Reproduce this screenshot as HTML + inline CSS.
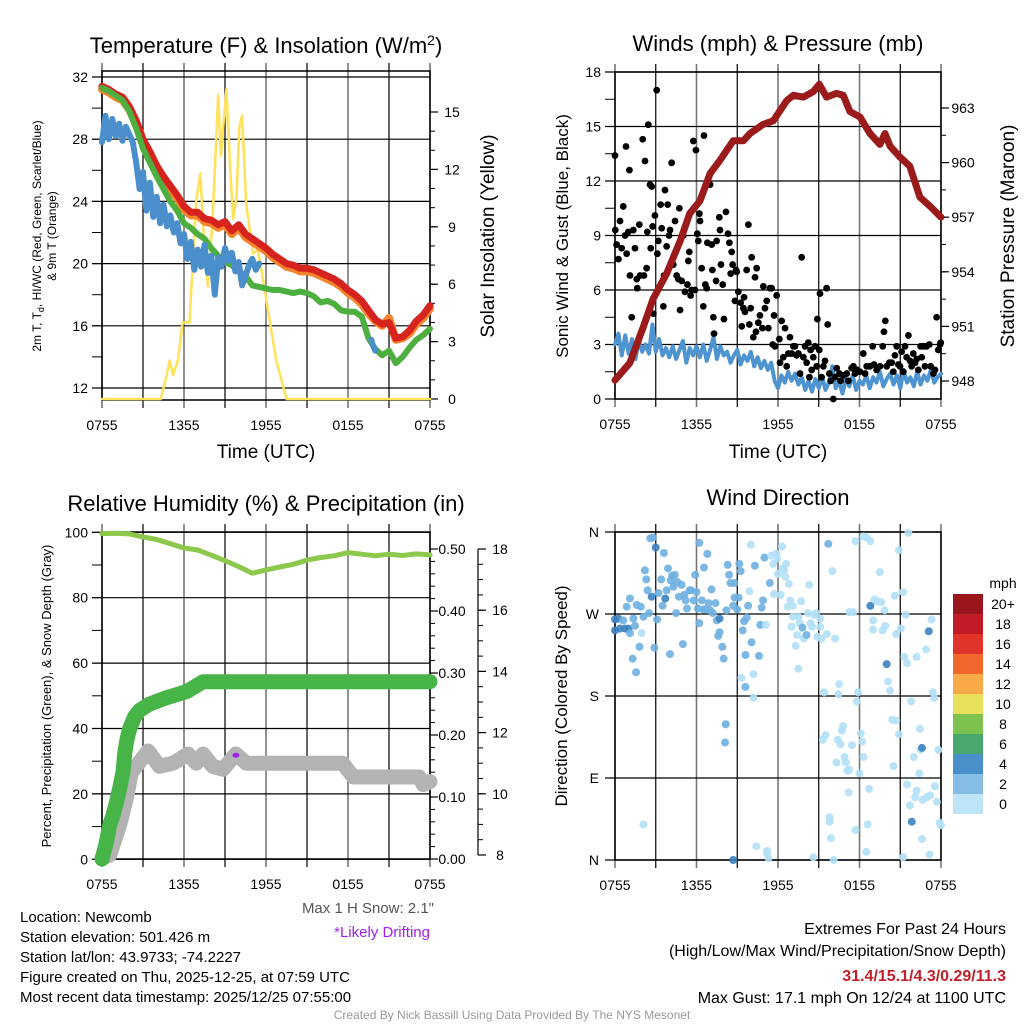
<!DOCTYPE html>
<html><head><meta charset="utf-8"><style>
html,body{margin:0;padding:0;background:#fff}
svg{display:block;font-family:"Liberation Sans",Arial,sans-serif}
</style></head><body>
<svg id="s" width="1024" height="1024" viewBox="0 0 1024 1024" xmlns="http://www.w3.org/2000/svg">
<g id="g1"></g>
<g id="g2"></g>
<g id="g3"></g>
<g id="g4"></g>
<text x="266" y="53" font-size="22" text-anchor="middle">Temperature (F) &amp; Insolation (W/m<tspan dy="-8" font-size="14">2</tspan><tspan dy="8">)</tspan></text>
<text x="778" y="51" font-size="22" text-anchor="middle">Winds (mph) &amp; Pressure (mb)</text>
<text x="266" y="511" font-size="22" text-anchor="middle">Relative Humidity (%) &amp; Precipitation (in)</text>
<text x="778" y="505" font-size="22" text-anchor="middle">Wind Direction</text>
<text x="266" y="458" font-size="19" text-anchor="middle">Time (UTC)</text>
<text x="778" y="458" font-size="19" text-anchor="middle">Time (UTC)</text>
<text transform="translate(41,236) rotate(-90)" font-size="12" text-anchor="middle">2m T, T<tspan font-size="9" dy="3">d</tspan><tspan dy="-3">, HI/WC (Red, Green, Scarlet/Blue)</tspan></text>
<text transform="translate(56,236) rotate(-90)" font-size="12" text-anchor="middle">&amp; 9m T (Orange)</text>
<text transform="translate(494,236) rotate(-90)" font-size="19" text-anchor="middle">Solar Insolation (Yellow)</text>
<text transform="translate(568,236) rotate(-90)" font-size="17" text-anchor="middle">Sonic Wind &amp; Gust (Blue, Black)</text>
<text transform="translate(1014,236) rotate(-90)" font-size="19" text-anchor="middle">Station Pressure (Maroon)</text>
<text transform="translate(51,696) rotate(-90)" font-size="13" text-anchor="middle">Percent, Precipitation (Green), &amp; Snow Depth (Gray)</text>
<text transform="translate(567,696) rotate(-90)" font-size="17" text-anchor="middle">Direction (Colored By Speed)</text>
<text x="434" y="913" font-size="15" fill="#555" text-anchor="end">Max 1 H Snow: 2.1"</text>
<text x="430" y="937" font-size="15" fill="#a020f0" text-anchor="end">*Likely Drifting</text>
<g font-size="15">
<text x="20" y="922">Location: Newcomb</text>
<text x="20" y="942">Station elevation: 501.426 m</text>
<text x="20" y="962">Station lat/lon: 43.9733; -74.2227</text>
<text x="20" y="982">Figure created on Thu, 2025-12-25, at 07:59 UTC</text>
<text x="20" y="1002">Most recent data timestamp: 2025/12/25 07:55:00</text>
</g>
<g font-size="16" text-anchor="end">
<text x="1006" y="934">Extremes For Past 24 Hours</text>
<text x="1006" y="956">(High/Low/Max Wind/Precipitation/Snow Depth)</text>
<text x="1006" y="981" font-weight="bold" fill="#c0202a">31.4/15.1/4.3/0.29/11.3</text>
<text x="1006" y="1003">Max Gust: 17.1 mph On 12/24 at 1100 UTC</text>
</g>
<text x="512" y="1019" font-size="12" fill="#999" text-anchor="middle">Created By Nick Bassill Using Data Provided By The NYS Mesonet</text>
</svg>
<script>
// ---- shared ----
const timeLabels=["0755","1355","1955","0155","0755"];
// ---- panel 1 data ----
const tempTicks=[12,16,20,24,28,32];
const solarTicks=[0,3,6,9,12,15];
const redT=[31.4,31.2,30.9,30.7,30.1,29.2,28.0,27.2,26.3,25.6,25.0,24.4,23.7,23.3,23.3,22.9,22.8,22.5,22.7,22.1,22.5,21.9,21.6,21.3,21.0,20.6,20.3,20.0,19.9,19.7,19.7,19.6,19.4,19.2,19.0,18.7,18.3,18.0,17.6,17.0,16.4,16.1,16.2,15.2,15.3,15.7,16.3,16.7,17.3];
const orangeT=[31.2,31.0,30.7,30.5,29.9,29.0,27.8,27.0,26.1,25.4,24.8,24.2,23.5,23.1,23.1,22.7,22.6,22.3,22.5,21.9,22.3,21.7,21.4,21.1,20.8,20.4,20.1,19.8,19.7,19.5,19.5,19.4,19.2,19.0,18.8,18.5,18.1,17.8,17.4,16.8,16.3,16.0,16.5,15.1,15.2,15.5,16.1,16.5,17.1];
const greenT=[31.3,31.1,30.8,30.5,29.8,28.7,27.4,26.5,25.6,24.8,24.0,23.4,22.6,22.3,21.9,21.6,21.0,20.5,20.1,19.9,19.5,19.2,18.6,18.5,18.4,18.3,18.3,18.2,18.1,18.2,18.1,17.9,17.5,17.6,17.4,17.0,16.9,16.9,16.6,15.2,14.5,14.1,14.4,13.6,14.0,14.6,15.1,15.4,15.8];
const blueT=[27.8,29.5,28.0,29.3,28.2,29.0,27.9,28.8,28.3,27.8,26.5,24.8,25.9,23.4,25.2,23.0,24.3,22.6,23.8,22.4,23.1,22.0,22.6,21.3,21.9,20.3,21.4,19.6,20.9,19.8,21.2,19.4,20.5,18.0,20.4,19.8,21.0,20.2,20.7,19.5,20.1,18.6,19.2,19.9,20.3,19.6,20.0];
const blue2Time=[19.7,19.8,19.9,20.0];
const blue2T=[15.1,14.8,14.6,14.4];
const solarTime=[0,4.3,4.65,4.95,5.2,5.55,5.9,6.4,6.9,7.2,7.4,7.75,8.1,8.5,8.7,9.1,9.35,9.6,9.85,10.05,10.25,10.55,11.05,11.4,11.75,12.15,12.75,13.5,24];
const solarV=[0,0,1.0,2.0,1.25,2.0,4.0,4.0,10.4,11.8,9.0,5.9,9.5,15.9,12.7,16.2,12.4,9.4,10.6,14.2,14.8,10.2,7.6,7.8,6.4,4.6,2.0,0,0];
// ---- panel 2 data ----
const windTicks=[0,3,6,9,12,15,18];
const presTicks=[948,951,954,957,960,963];
const sonic=[3.0,3.6,2.4,3.5,2.5,3.3,2.2,3.2,2.6,3.0,2.5,4.1,2.6,3.3,2.4,2.8,2.3,2.9,2.2,2.7,3.2,2.0,2.8,2.4,2.9,2.3,3.0,2.1,2.7,3.4,2.2,2.9,2.4,2.6,2.0,2.4,2.7,1.9,2.4,2.1,2.6,1.8,2.3,1.7,2.1,1.6,2.0,1.0,0.6,1.3,0.9,1.5,1.0,1.4,0.8,1.2,0.5,1.0,0.4,1.1,0.6,1.2,0.5,0.9,1.8,0.6,1.0,0.3,1.1,0.7,1.3,0.5,1.0,0.8,1.3,0.6,1.2,0.9,1.5,0.7,1.1,1.4,0.8,1.3,0.6,1.6,0.9,1.2,0.7,1.5,0.8,1.3,1.0,1.6,0.9,1.2,1.4];
const presTime=[0,1.1,2.1,2.8,3.8,4.8,5.5,6.26,7.0,7.7,8.7,9.45,9.94,10.9,11.66,12.64,13.13,13.87,14.6,15.04,15.58,16.3,16.8,17.3,18.04,18.77,19.5,19.88,20.25,20.98,21.7,22.45,23.2,24];
const presV=[948.05,949,951,952.5,953.9,955.7,957.2,957.9,959.4,960.1,961.2,961.2,961.6,962.1,962.3,963.4,963.7,963.6,963.9,964.3,963.6,963.8,963.7,962.8,962.5,961.6,961.0,961.6,960.9,960.3,959.8,958.1,957.6,957.0];
const gustTime=[0,0.02,0.12,0.25,0.37,0.49,0.61,0.74,0.81,0.86,0.98,1.06,1.10,1.23,1.35,1.47,1.60,1.64,1.79,1.84,2.04,2.13,2.21,2.33,2.38,2.45,2.58,2.63,2.70,2.77,2.82,2.94,3.07,3.12,3.19,3.36,3.44,3.56,3.61,3.68,3.80,3.88,3.98,4.05,4.17,4.29,4.42,4.54,4.66,4.74,4.79,4.91,5.03,5.15,5.33,5.40,5.47,5.57,5.64,5.77,5.89,5.96,6.06,6.13,6.21,6.26,6.38,6.50,6.55,6.65,6.75,6.80,7.00,7.12,7.17,7.24,7.29,7.44,7.48,7.68,7.73,7.80,7.93,8.02,8.17,8.32,8.42,8.52,8.59,8.66,8.83,8.91,8.96,9.08,9.25,9.33,9.45,9.50,9.57,9.69,9.82,9.89,9.99,10.06,10.18,10.31,10.38,10.43,10.55,10.67,10.85,10.92,11.04,11.17,11.29,11.41,11.53,11.61,11.71,11.78,11.90,12.10,12.15,12.27,12.39,12.52,12.64,12.76,12.88,13.01,13.13,13.25,13.37,13.50,13.62,13.74,13.87,13.99,14.11,14.23,14.31,14.40,14.48,14.60,14.72,14.85,14.90,15.04,15.09,15.21,15.34,15.46,15.58,15.66,15.78,15.88,16.07,16.20,16.32,16.52,16.61,16.81,17.06,17.18,17.42,17.55,17.67,17.84,18.04,18.28,18.41,18.53,18.77,18.97,19.07,19.26,19.51,19.71,19.80,19.90,20.00,20.20,20.37,20.49,20.61,20.74,20.86,20.98,21.10,21.23,21.35,21.47,21.60,21.72,21.84,21.96,22.09,22.21,22.33,22.50,22.58,22.70,22.82,22.94,23.14,23.24,23.44,23.56,23.68,23.80,23.93,23.98];
const gustV=[13.4,9.3,8.5,7.7,9.8,8.3,10.6,9.0,13.9,8.0,9.2,12.6,6.8,4.5,9.3,8.3,6.6,6.1,9.6,6.8,14.3,6.8,13.1,7.2,9.2,15.1,11.8,8.3,11.7,9.5,4.7,10.1,17.0,8.0,8.7,10.7,9.4,5.1,6.8,11.5,8.4,10.7,9.0,9.3,13.0,7.4,9.8,6.8,6.6,10.5,4.9,6.5,9.0,5.9,6.3,7.6,8.1,5.7,6.0,14.2,6.0,13.7,9.1,8.7,10.2,9.8,7.2,5.1,14.5,6.3,6.1,8.6,11.8,8.5,7.1,4.5,3.6,6.5,8.7,10.0,9.3,7.4,6.3,4.4,10.3,9.1,8.6,6.9,8.1,7.4,5.4,7.1,7.0,5.9,5.3,4.0,5.0,5.6,4.8,7.1,9.6,4.1,5.0,7.8,3.4,6.7,3.7,7.2,4.2,4.6,3.9,6.2,5.0,5.4,3.9,6.1,6.1,3.0,4.6,2.9,5.7,3.3,2.0,4.3,2.3,3.9,1.8,2.5,3.4,2.5,2.9,2.9,2.4,2.5,1.4,7.8,2.3,2.9,2.0,3.1,1.2,2.7,1.6,2.3,2.9,1.8,4.4,2.7,5.8,1.2,1.8,2.1,6.1,4.1,1.4,1.0,0.0,1.2,1.7,1.4,1.0,1.3,1.4,1.0,1.7,1.8,1.4,1.6,1.5,2.5,1.4,1.8,1.8,2.9,1.9,1.6,1.8,2.9,3.7,4.3,1.8,2.0,2.0,1.5,2.4,2.9,1.9,1.8,2.6,1.5,2.9,2.3,3.5,2.1,1.8,2.5,2.0,2.2,1.6,2.9,2.3,2.9,1.8,2.9,3.0,1.8,1.4,1.6,4.5,2.7,3.0,3.1];
// ---- panel 3 data ----
const pctTicks=[0,20,40,60,80,100];
const precipTicks=[0,0.1,0.2,0.3,0.4,0.5];
const snowTicks=[8,10,12,14,16,18];
const rh=[99.6,99.7,99.5,98.6,97.8,96.5,95.2,94.6,93.0,91.3,89.5,87.5,88.5,89.4,90.2,91.5,92.3,92.8,93.8,93.3,92.8,93.3,92.9,93.4,93.1];
const precipTime=[0,0.3,0.56,0.8,1.05,1.3,1.54,1.66,1.8,2.02,2.4,2.76,3.49,4.7,6.2,7.4,12,18,24];
const precipV=[0,0.025,0.055,0.07,0.09,0.115,0.14,0.17,0.19,0.21,0.23,0.24,0.25,0.26,0.27,0.286,0.286,0.286,0.286];
const snowTime=[0,0.56,1.3,1.78,2.15,2.5,3.37,4.2,5.2,6.3,6.9,7.4,8.1,8.85,9.8,10.56,17.6,18.4,23.2,23.5,24];
const snowV=[7.9,8.0,9.0,9.85,10.7,10.9,11.4,10.9,11.0,11.3,11.0,11.3,10.9,10.8,11.3,11.0,11.0,10.55,10.55,10.3,10.4];
const driftTime=[9.8];
const driftV=[11.26];
// ---- panel 4 data ----
const dirLabels=["N","E","S","W","N"];
const dirTicks=[0,90,180,270,360];
const cbLabels=["20+","18","16","14","12","10","8","6","4","2","0"];
const cbColors=["#9a161d","#c11b26","#e0342a","#f2672b","#f8a948","#e8e05a","#7dc24f","#48a870","#4a90c8","#85bde6","#bde5f7"];
const dirTime=[0,0,0.25,0.37,0.6,0.74,1.0,1.1,1.35,1.47,1.3,1.55,1.8,0.86,1.1,1.6,1.9,1.96,2.1,2.2,2.3,2.4,2.5,2.6,2.8,2.7,2.9,3.0,3.1,3.2,3.4,3.5,3.6,3.7,3.8,3.9,4.05,4.1,4.2,4.3,4.4,4.5,4.6,4.7,4.9,5.0,5.1,5.2,5.3,5.5,5.6,5.8,5.9,6.0,6.1,6.2,6.2,6.4,6.5,6.55,6.7,6.8,6.9,7.0,7.1,7.2,7.4,7.5,7.7,7.7,7.6,7.9,8.0,8.15,8.1,8.2,8.3,8.4,8.5,8.7,8.8,8.8,9.0,9.15,9.25,9.1,9.4,9.5,9.6,9.7,9.8,9.9,10.0,10.05,10.2,9.3,9.6,10.2,10.3,10.6,10.7,10.8,10.9,11.0,11.1,11.4,11.5,11.65,11.7,11.85,11.95,12.0,12.3,12.2,12.35,12.45,12.55,12.6,12.7,12.8,12.9,13.1,13.1,13.0,13.3,13.4,13.5,13.6,13.7,13.8,13.9,14.1,14.2,14.3,14.4,14.5,14.65,14.8,14.9,15.1,15.1,15.2,15.6,15.7,16.0,16.2,13.5,16.5,16.45,15.4,15.3,15.5,16.4,16.6,16.8,16.7,16.9,16.3,17.0,17.1,17.25,17.45,17.2,15.8,15.8,15.9,14.6,16.1,17.25,17.55,17.7,18.3,18.5,18.8,17.9,17.8,18.1,18.2,18.3,18.0,18.7,18.6,17.7,18.5,19.0,19.0,18.8,19.1,19.3,19.5,19.6,19.7,19.85,19.9,20.0,20.1,20.25,20.4,20.7,20.7,20.5,20.6,20.9,20.9,21.05,21.2,21.3,21.4,21.5,21.6,21.8,22.2,22.45,22.5,22.6,23.1,22.9,23.3,23.4,23.5,22.0,22.4,21.5,22.1,22.2,21.7,22.65,22.95,23.2,23.55,23.7,23.8,23.9,24.0,22.6,23.15,21.85,21.2,2.1,8.7,10.4,11.2,11.2,11.3];
const dirDeg=[264,252,265,254,263,254,254,249,265,257,221,206,234,278,287,280,278,249,267,318,308,296,271,353,354,289,233,343,264,293,308,279,337,287,296,320,226,307,312,300,313,271,305,289,302,237,291,285,276,296,296,285,313,294,276,260,348,285,275,321,275,336,282,274,297,271,282,263,265,250,246,234,221,149,129,274,324,313,304,279,288,304,275,325,317,288,252,262,225,266,279,295,346,239,204,200,190,178,323,224,258,277,285,332,258,304,334,325,292,336,331,314,344,291,320,318,311,325,278,303,285,279,267,256,235,247,267,260,284,255,243,247,271,302,260,256,269,271,245,256,265,243,248,347,317,243,210,193,182,184,132,137,132,127,147,142,113,107,107,98,99,126,74,47,42,24,3,0,272,272,350,355,354,350,184,174,139,130,113,95,78,39,33,9,263,253,279,286,284,316,283,252,274,257,215,196,186,154,248,153,103,290,340,138,254,294,223,269,216,359,174,223,144,121,123,251,231,264,184,178,113,95,83,69,76,60,66,69,71,81,64,121,41,38,23,6,42,3,39,0,15,10,7,2];
const dirSpeed=[5,5,5,5,3,5,5,3,3,3,3,3,3,3,3,3,3,1,3,3,3,3,3,3,3,5,3,5,3,3,3,3,3,5,3,3,3,3,3,3,3,3,3,3,3,3,3,3,3,3,3,3,3,3,3,3,3,3,3,3,3,3,3,3,3,3,3,3,5,3,3,3,3,3,3,3,3,3,3,3,3,3,3,3,3,3,3,3,3,3,3,1,1,3,1,1,3,1,3,3,3,3,3,3,1,3,1,1,1,1,1,1,1,1,1,1,1,1,1,1,1,1,1,1,1,1,1,1,1,3,1,3,1,1,1,1,1,1,1,1,1,1,1,3,1,1,1,1,1,1,1,1,1,1,1,1,1,1,1,1,1,1,1,1,1,1,1,1,1,1,1,1,1,1,1,1,1,1,1,1,1,1,1,1,1,1,5,1,1,1,1,1,1,1,5,1,1,1,1,1,1,1,1,1,1,1,1,1,1,1,1,1,1,1,5,5,1,1,1,1,1,1,1,1,1,1,1,1,1,1,1,1,1,1,1,1,5,1,1,5,1,1,1,1,3,3,1,3,3,1];

const NS="http://www.w3.org/2000/svg";
function mk(parent,tag,attrs){const e=document.createElementNS(NS,tag);for(const k in attrs)e.setAttribute(k,attrs[k]);parent.appendChild(e);return e;}
function lin(d0,d1,r0,r1){return v=>r0+(v-d0)*(r1-r0)/(d1-d0);}
function pathD(xs,ys,fx,fy){let d="";for(let i=0;i<xs.length;i++){d+=(i?"L":"M")+fx(xs[i]).toFixed(1)+","+fy(ys[i]).toFixed(1);}return d;}
function grid(g,L,R,T,B,hLines){
  for(let h=0;h<=24;h+=3){const x=L+(R-L)*h/24;const six=h%6===0;
    const ln=mk(g,"line",{x1:x,x2:x,y1:T-8,y2:B+8,stroke:six?"#777":"#000","stroke-width":six?1.6:1.2});
    
    }
  hLines.forEach(y=>{const ln=mk(g,"line",{x1:L-10,x2:R,y1:y,y2:y,stroke:"#000","stroke-width":1.2});
    
    });
  const bx=mk(g,"rect",{x:L,y:T,width:R-L,height:B-T,fill:"none",stroke:"#000","stroke-width":1.5});
  
  
  timeLabels.forEach((s,i)=>{const t=mk(g,"text",{x:L+(R-L)*i/4,y:B+30,"font-size":14,"text-anchor":"middle"});t.textContent=s;
    
    });
}
function leftLabels(g,ticks,fy,L,fmt){ticks.forEach(v=>{const t=mk(g,"text",{x:L-14,y:fy(v)+5,"font-size":14,"text-anchor":"end"});t.textContent=fmt?fmt(v):v;
  
  });}
function rightAxis(g,ticks,fy,x,fmt,minorStep){ticks.forEach(v=>{mk(g,"line",{x1:x,x2:x+8,y1:fy(v),y2:fy(v),stroke:"#000","stroke-width":1.2});
  const t=mk(g,"text",{x:x+22,y:fy(v)+5,"font-size":14,"text-anchor":"middle"});t.textContent=fmt?fmt(v):v;
  
  });
  if(minorStep){const a=ticks[0],b=ticks[ticks.length-1];for(let v=a;v<=b+1e-9;v+=minorStep)mk(g,"line",{x1:x,x2:x+5,y1:fy(v),y2:fy(v),stroke:"#000","stroke-width":1});}}
function line(g,xs,ys,fx,fy,color,w,name,op){const p=mk(g,"path",{d:pathD(xs,ys,fx,fy),fill:"none",stroke:color,"stroke-width":w,"stroke-linejoin":"round","stroke-linecap":"round",opacity:op||1});
  
  return p;}
const half=n=>Array.from({length:n},(_,i)=>i*0.5);
const quarter=n=>Array.from({length:n},(_,i)=>i*0.25);
const hourly=n=>Array.from({length:n},(_,i)=>i);

// ---- panel 1 ----
(function(){const g=document.getElementById("g1");const L=102,R=430,T=71,B=400;
 const fx=lin(0,24,L,R),fy=lin(32,12,77,388),fs=lin(0,15,399,112);
 grid(g,L,R,T,B,tempTicks.map(fy));
 for(let v=12;v<=32;v+=2)mk(g,"line",{x1:L-10,x2:L,y1:fy(v),y2:fy(v),stroke:"#000"});
 leftLabels(g,tempTicks,fy,L);
 rightAxis(g,solarTicks,fs,R,null,1);
 line(g,solarTime,solarV,fx,fs,"#ffe15a",2.5,"solar-insolation-line");
 line(g,half(orangeT.length),orangeT,fx,fy,"#f5852c",8,"9m-temp-line");
 line(g,half(redT.length),redT,fx,fy,"#d7231e",7,"2m-temp-line");
 line(g,half(greenT.length),greenT,fx,fy,"#4caf3f",6,"dewpoint-line");
 line(g,quarter(blueT.length),blueT,fx,fy,"#4a8fcb",6,"heat-index-windchill-line");
 line(g,blue2Time,blue2T,fx,fy,"#4a8fcb",6,"heat-index-windchill-line-2");
})();
// ---- panel 2 ----
(function(){const g=document.getElementById("g2");const L=615,R=941,T=72,B=399;
 const fx=lin(0,24,L,R),fy=lin(0,18,399,72),fp=lin(948,963,381,108);
 grid(g,L,R,T,B,windTicks.map(fy));
 for(let v=0;v<=18;v+=1.5)mk(g,"line",{x1:L-10,x2:L,y1:fy(v),y2:fy(v),stroke:"#000"});
 leftLabels(g,windTicks,fy,L);
 rightAxis(g,presTicks,fp,R,null,1.5);
 line(g,quarter(sonic.length),sonic,fx,fy,"#4d94d0",4,"sonic-wind-line");
 gustTime.forEach((t,i)=>{const c=mk(g,"circle",{cx:fx(t),cy:fy(gustV[i]),r:3.4,fill:"#000"});
   
   });
 line(g,presTime,presV,fx,fp,"#9b1b1b",7,"pressure-line");
})();
// ---- panel 3 ----
(function(){const g=document.getElementById("g3");const L=102,R=430,T=532,B=859;
 const fx=lin(0,24,L,R),fy=lin(0,100,859.3,532.3),fpr=lin(0,0.5,859,549),fsn=lin(8,18,855,549);
 grid(g,L,R,T,B,pctTicks.map(fy));
 for(let v=0;v<=100;v+=10)mk(g,"line",{x1:L-10,x2:L,y1:fy(v),y2:fy(v),stroke:"#000"});
 leftLabels(g,pctTicks,fy,L);
 rightAxis(g,precipTicks,fpr,R,v=>v.toFixed(2),0.02);
 const ax=mk(g,"line",{x1:478,x2:478,y1:fsn(18),y2:fsn(8),stroke:"#000","stroke-width":1.2});
 
 
 rightAxis(g,snowTicks,fsn,478,null,0.5);
 line(g,hourly(rh.length),rh,fx,fy,"#8cc84b",5,"humidity-line");
 line(g,snowTime,snowV,fx,fsn,"#b3b3b3",15,"snow-depth-line");
 line(g,precipTime,precipV,fx,fpr,"#46b446",15,"precipitation-line");
 driftTime.forEach((t,i)=>{const e=mk(g,"ellipse",{cx:fx(t),cy:fsn(driftV[i]),rx:3.5,ry:2.5,fill:"#a020f0"});
   
   });
})();
// ---- panel 4 ----
(function(){const g=document.getElementById("g4");const L=615,R=941,T=532,B=860;
 const fx=lin(0,24,L,R),fy=lin(0,360,860,532);
 grid(g,L,R,T,B,dirTicks.map(fy));
 dirLabels.forEach((s,i)=>{const t=mk(g,"text",{x:L-16,y:fy(dirTicks[i])+5,"font-size":14,"text-anchor":"end"});t.textContent=s;
   
   });
 const col=s=>s<2?"#b3e0f6":s<4?"#6fb0e2":"#3c82c0";
 dirTime.forEach((t,i)=>{const c=mk(g,"circle",{cx:fx(t),cy:fy(dirDeg[i]),r:4,fill:col(dirSpeed[i]),opacity:0.9});
   
   });
 const cb=mk(g,"g",{});
 
 
 const u=mk(cb,"text",{x:1003,y:588,"font-size":14,"text-anchor":"middle"});u.textContent="mph";
 cbLabels.forEach((s,i)=>{const y=594+i*20;mk(cb,"rect",{x:953,y:y,width:30,height:20,fill:cbColors[i]});
   const t=mk(cb,"text",{x:1003,y:y+15,"font-size":14,"text-anchor":"middle"});t.textContent=s;
   
   });
})();
</script>
</body></html>
